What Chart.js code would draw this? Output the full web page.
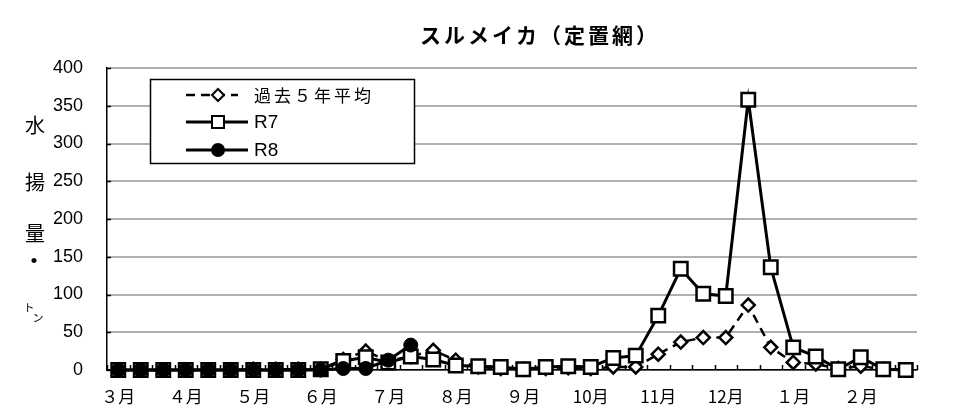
<!DOCTYPE html>
<html lang="ja">
<head>
<meta charset="utf-8">
<title>スルメイカ（定置網）</title>
<style>
  html, body { margin: 0; padding: 0; background: #fff; }
</style>
<script src="https://cdn.jsdelivr.net/npm/chart.js"></script>
</head>
<body>
<canvas id="catchChart" width="960" height="417"></canvas>
<script>
// 旬ごとのカテゴリ (3月上旬 〜 2月下旬)
const months = ['3月', '4月', '5月', '6月', '7月', '8月', '9月', '10月', '11月', '12月', '1月', '2月'];
const periods = ['上旬', '中旬', '下旬'];
const tickLabels = ['３月', '４月', '５月', '６月', '７月', '８月', '９月', '10月', '11月', '12月', '１月', '２月'];
const yTickValues = [0, 50, 100, 150, 200, 250, 300, 350, 400];

const categories = [];
months.forEach(m => periods.forEach(p => categories.push(m + p)));

// 水揚量（トン）
const avg5Years = [0, 0, 0, 0, 0, 0, 1, 1, 1, 1, 14, 25, 12, 18, 26, 13, 4, 2, 1, 2, 3, 2, 4, 4, 21, 37, 43, 43, 86, 30, 10, 8, 2, 5, 1, 0];
const r7 = [0, 0, 0, 0, 0, 0, 0, 0, 0, 1, 12, 17, 10, 18, 14, 6, 5, 4, 1, 4, 5, 4, 16, 19, 72, 134, 101, 98, 358, 136, 30, 18, 1, 17, 1, 0];
const r8 = [0, 0, 0, 0, 0, 0, 0, 0, 0, 0, 2, 2, 13, 33, null, null, null, null, null, null, null, null, null, null, null, null, null, null, null, null, null, null, null, null, null, null];

const seriesNames = ['過去５年平均', 'R7', 'R8'];
const narrowFont = '"Liberation Sans Narrow", "Liberation Sans", Arial, sans-serif';
const jpFont = '"Noto Sans CJK JP", "Noto Sans", sans-serif';

// 目盛り線・タイトル・縦書き軸ラベル・凡例
const decorPlugin = {
    id: 'decor',
    beforeDatasetsDraw(chart) {
        const { ctx, chartArea: a, scales: { x, y } } = chart;
        ctx.save();
        ctx.strokeStyle = '#000';
        ctx.lineWidth = 1.5;
        ctx.beginPath();
        for (let i = 0; i <= categories.length; i++) {
            const px = Math.round(x.getPixelForValue(i - 0.5)) + 0.5;
            ctx.moveTo(px, a.bottom);
            ctx.lineTo(px, a.bottom - 5);
        }
        y.ticks.forEach(t => {
            const py = Math.round(y.getPixelForValue(t.value)) + 0.5;
            ctx.moveTo(a.left, py);
            ctx.lineTo(a.left + 4, py);
        });
        ctx.stroke();
        ctx.restore();
    },
    afterDraw(chart) {
        const ctx = chart.ctx;
        const ds = chart.data.datasets;
        ctx.save();
        ctx.fillStyle = '#000';
        ctx.textBaseline = 'middle';

        // title
        ctx.font = 'bold 21px ' + jpFont;
        ctx.textAlign = 'center';
        ctx.letterSpacing = '3px';
        ctx.fillText('スルメイカ（定置網）', 540, 35);

        // y axis title (vertical)
        ctx.letterSpacing = '0px';
        ctx.font = '20px ' + jpFont;
        [['水', 125], ['揚', 182], ['量', 233]].forEach(([c, py]) => ctx.fillText(c, 35, py));
        ctx.font = 'bold 20px ' + jpFont;
        ctx.fillText('・', 34, 260);
        ctx.font = '11px ' + jpFont;
        ctx.fillText('ト', 29, 308);
        ctx.fillText('ン', 38, 318);

        // legend box
        ctx.fillStyle = '#fff';
        ctx.fillRect(150, 79, 264, 84);
        ctx.strokeStyle = '#000';
        ctx.lineWidth = 1.5;
        ctx.strokeRect(150.5, 79.5, 264, 84);

        const rows = [95, 122, 150];
        ds.forEach((d, i) => {
            const py = rows[i];
            ctx.beginPath();
            ctx.lineWidth = d.borderWidth;
            ctx.setLineDash(d.borderDash || []);
            ctx.moveTo(186, py);
            ctx.lineTo(d.borderDash ? 238 : 248, py);
            ctx.stroke();
            ctx.setLineDash([]);

            const mx = 218;
            ctx.beginPath();
            if (d.pointStyle === 'rectRot') {
                const r = 6;
                ctx.moveTo(mx, py - r); ctx.lineTo(mx + r, py); ctx.lineTo(mx, py + r); ctx.lineTo(mx - r, py); ctx.closePath();
            } else if (d.pointStyle === 'rect') {
                ctx.rect(mx - 6, py - 6, 12, 12);
            } else {
                ctx.arc(mx, py, 6, 0, Math.PI * 2);
            }
            ctx.fillStyle = d.pointBackgroundColor;
            ctx.fill();
            ctx.lineWidth = 2;
            ctx.stroke();

            ctx.fillStyle = '#000';
            ctx.textAlign = 'left';
            if (i === 0) {
                ctx.font = '17px ' + jpFont;
                ctx.letterSpacing = '3px';
            } else {
                ctx.font = '19px ' + narrowFont;
                ctx.letterSpacing = '0px';
            }
            ctx.fillText(seriesNames[i], 254, py + 1);
        });
        ctx.restore();
    }
};

new Chart(document.getElementById('catchChart').getContext('2d'), {
    type: 'line',
    data: {
        labels: categories,
        datasets: [
            {
                label: seriesNames[0],
                data: avg5Years,
                borderColor: '#000',
                borderWidth: 2.5,
                borderDash: [9, 6],
                pointStyle: 'rectRot',
                pointRadius: 6.5,
                pointBorderWidth: 2.5,
                pointBorderColor: '#000',
                pointBackgroundColor: '#fff',
                clip: false,
                order: 2
            },
            {
                label: seriesNames[1],
                data: r7,
                borderColor: '#000',
                borderWidth: 3,
                pointStyle: 'rect',
                pointRadius: 9.5,
                pointBorderWidth: 2.5,
                pointBorderColor: '#000',
                pointBackgroundColor: '#fff',
                clip: false,
                order: 1
            },
            {
                label: seriesNames[2],
                data: r8,
                borderColor: '#000',
                borderWidth: 3,
                pointStyle: 'circle',
                pointRadius: 7,
                pointBorderWidth: 1,
                pointBorderColor: '#000',
                pointBackgroundColor: '#000',
                clip: false,
                order: 0
            }
        ]
    },
    options: {
        responsive: false,
        animation: false,
        layout: { padding: { left: 0, right: 43, top: 68, bottom: 0 } },
        plugins: {
            legend: { display: false },
            tooltip: { enabled: false },
            title: { display: false }
        },
        scales: {
            x: {
                type: 'category',
                offset: true,
                grid: { display: false, drawTicks: false },
                border: { display: true, color: '#000', width: 1.5 },
                ticks: {
                    autoSkip: false,
                    maxRotation: 0,
                    padding: 16,
                    color: '#000',
                    font: { family: jpFont, size: 17 },
                    callback: (val, i) => (i % 3 === 0 ? tickLabels[i / 3] : '')
                },
                afterFit: s => { s.height = 47; }
            },
            y: {
                min: 0,
                max: 400,
                afterBuildTicks: s => { s.ticks = yTickValues.map(v => ({ value: v })); },
                grid: { color: '#b0b0b0', lineWidth: 2, drawTicks: false },
                border: { display: true, color: '#000', width: 1.5 },
                ticks: {
                    padding: 24,
                    color: '#000',
                    font: { family: narrowFont, size: 18 }
                },
                afterFit: s => { s.width = 107; }
            }
        }
    },
    plugins: [decorPlugin]
});
</script>
</body>
</html>
